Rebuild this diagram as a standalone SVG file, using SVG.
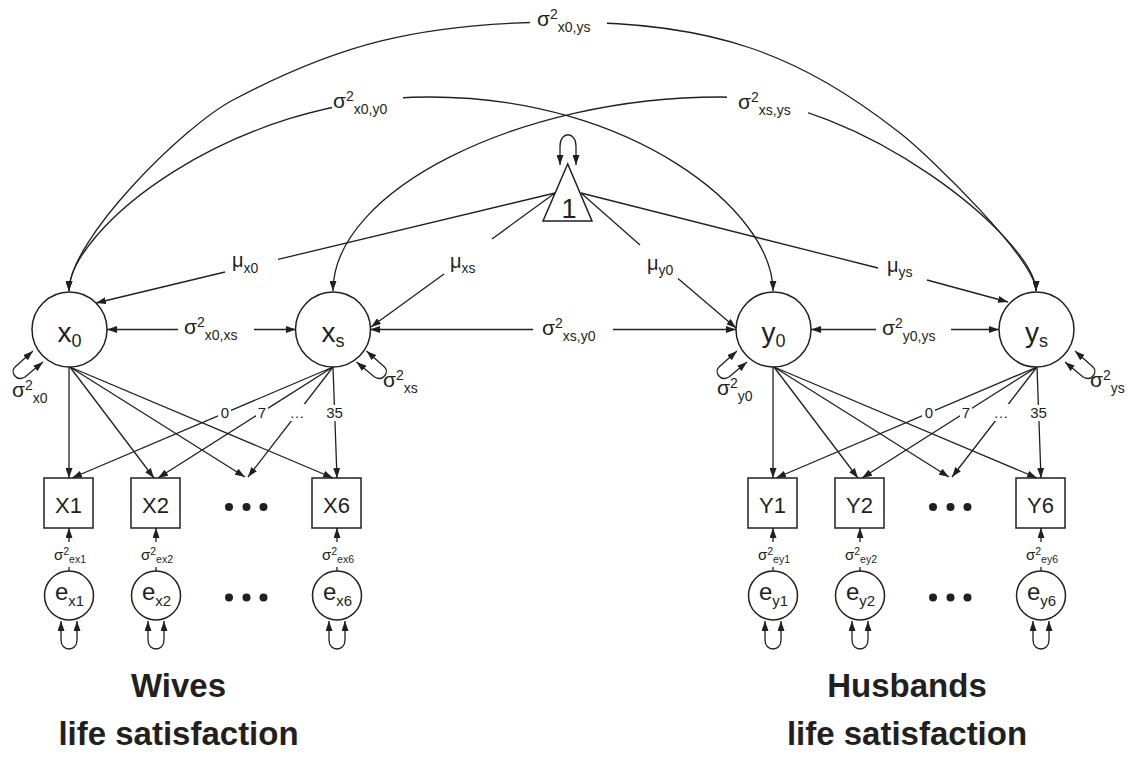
<svg xmlns="http://www.w3.org/2000/svg" width="1128" height="763" viewBox="0 0 1128 763">
<defs>
<marker id="ah" markerUnits="userSpaceOnUse" markerWidth="10" markerHeight="7" refX="10" refY="3.5" orient="auto-start-reverse" viewBox="0 0 10 7"><path d="M0,0 L10,3.5 L0,7 z" fill="#231f20"/></marker>
<style>
text{font-family:"Liberation Sans",Arial,sans-serif;fill:#231f20}
.ln,.ar,.ar2{fill:none;stroke:#231f20;stroke-width:1.3}
.ar{marker-end:url(#ah)}
.ar2{marker-start:url(#ah);marker-end:url(#ah)}
.nd{fill:#fff;stroke:#231f20;stroke-width:1.5}
.bg{fill:#fff}
.dot{fill:#231f20}
.cv{font-size:21px}
.s14{font-size:14px}
.mu{font-size:20px}
.lat{font-size:28px;text-anchor:middle}
.s18{font-size:18px}
.obs{font-size:22px;text-anchor:middle}
.err{font-size:24px;text-anchor:middle}
.s15{font-size:15px}
.ev{font-size:15px}
.s10{font-size:10.5px}
.ld{font-size:15px;text-anchor:middle}
.tt{font-size:33px;font-weight:bold;text-anchor:middle}
</style>
</defs>
<rect width="1128" height="763" fill="#fff"/>

<g id="connectors">
<!-- covariance arcs -->
<path class="ar2" d="M69,291 C69,240 183,126.5 233,100 C333,47 415,22 565,22 C715,22 800,55 900,133 C930,156.4 1036,260 1036,291"/>
<path class="ar2" d="M69,291 C69,230 230,97 430,97 C630,97 773,210 773,291"/>
<path class="ar2" d="M333,291 C333,190 520,97 720,97 C860,97 1036,240 1036,291"/>
<rect class="bg" x="530" y="8" width="77" height="28"/>
<rect class="bg" x="332" y="88" width="71" height="30"/>
<rect class="bg" x="727" y="88" width="81" height="30"/>
<!-- horizontal covariances -->
<line class="ar" x1="178" y1="329.5" x2="107" y2="329.5"/>
<line class="ar" x1="254" y1="329.5" x2="296" y2="329.5"/>
<line class="ar" x1="533" y1="329.5" x2="370" y2="329.5"/>
<line class="ar" x1="613" y1="329.5" x2="736" y2="329.5"/>
<line class="ar" x1="876" y1="329.5" x2="811" y2="329.5"/>
<line class="ar" x1="951" y1="329.5" x2="999" y2="329.5"/>
<!-- means -->
<line class="ln" x1="555" y1="193" x2="278" y2="259.4"/>
<line class="ar" x1="225" y1="272" x2="96" y2="303"/>
<line class="ln" x1="555" y1="193" x2="492" y2="239"/>
<line class="ar" x1="444" y1="274" x2="371" y2="327"/>
<line class="ln" x1="581" y1="193" x2="640" y2="245"/>
<line class="ar" x1="678" y1="278.5" x2="736" y2="328"/>
<line class="ln" x1="581" y1="193" x2="878" y2="268"/>
<line class="ar" x1="927" y1="280" x2="1008" y2="302"/>
<!-- triangle self loop -->
<path class="ar2" d="M560,165 L560,146 C560,131 576,131 576,146 L576,165"/>
<!-- latent self loops -->
<path class="ar2" d="M33,351 L15,367 C10,372 16,382 25,377 L43,362"/>
<path class="ar2" d="M366.5,351 L384.5,367 C389.5,372 383.5,382 374.5,377 L356.5,362"/>
<path class="ar2" d="M737,351 L719,367 C714,372 720,382 729,377 L747,362"/>
<path class="ar2" d="M1075,351 L1093,367 C1098,372 1092,382 1083,377 L1065,362"/>
<!-- loadings wives -->
<line class="ar" x1="69" y1="367" x2="69" y2="478"/>
<line class="ar" x1="70" y1="367" x2="154" y2="478"/>
<line class="ar" x1="70" y1="367" x2="245" y2="477"/>
<line class="ar" x1="70" y1="367" x2="333" y2="478"/>
<line class="ar" x1="333" y1="367" x2="72" y2="478"/>
<line class="ar" x1="333" y1="367" x2="158" y2="478"/>
<line class="ar" x1="333" y1="367" x2="248" y2="477"/>
<line class="ar" x1="333" y1="367" x2="337" y2="478"/>
<!-- loadings husbands -->
<line class="ar" x1="773" y1="367" x2="773" y2="478"/>
<line class="ar" x1="774" y1="367" x2="858" y2="478"/>
<line class="ar" x1="774" y1="367" x2="949" y2="477"/>
<line class="ar" x1="774" y1="367" x2="1037" y2="478"/>
<line class="ar" x1="1037" y1="367" x2="776" y2="478"/>
<line class="ar" x1="1037" y1="367" x2="862" y2="478"/>
<line class="ar" x1="1037" y1="367" x2="952" y2="477"/>
<line class="ar" x1="1037" y1="367" x2="1041" y2="478"/>
<rect class="bg" x="218" y="405" width="13" height="16"/>
<rect class="bg" x="256" y="405" width="12" height="16"/>
<rect class="bg" x="289" y="404" width="16" height="17"/>
<rect class="bg" x="325" y="405" width="19" height="16"/>
<rect class="bg" x="922" y="405" width="13" height="16"/>
<rect class="bg" x="960" y="405" width="12" height="16"/>
<rect class="bg" x="993" y="404" width="16" height="17"/>
<rect class="bg" x="1029" y="405" width="19" height="16"/>
<!-- residual paths -->
<line class="ar" x1="69" y1="542" x2="69" y2="528"/><line class="ln" x1="69" y1="571" x2="69" y2="567"/>
<line class="ar" x1="156" y1="542" x2="156" y2="528"/><line class="ln" x1="156" y1="571" x2="156" y2="567"/>
<line class="ar" x1="337" y1="542" x2="337" y2="528"/><line class="ln" x1="337" y1="571" x2="337" y2="567"/>
<line class="ar" x1="773" y1="542" x2="773" y2="528"/><line class="ln" x1="773" y1="571" x2="773" y2="567"/>
<line class="ar" x1="860" y1="542" x2="860" y2="528"/><line class="ln" x1="860" y1="571" x2="860" y2="567"/>
<line class="ar" x1="1041" y1="542" x2="1041" y2="528"/><line class="ln" x1="1041" y1="571" x2="1041" y2="567"/>
<!-- residual self loops -->
<path class="ar2" d="M61,621 L61,640 C61,652 77,652 77,640 L77,621"/>
<path class="ar2" d="M148,621 L148,640 C148,652 164,652 164,640 L164,621"/>
<path class="ar2" d="M329,621 L329,640 C329,652 345,652 345,640 L345,621"/>
<path class="ar2" d="M765,621 L765,640 C765,652 781,652 781,640 L781,621"/>
<path class="ar2" d="M852,621 L852,640 C852,652 868,652 868,640 L868,621"/>
<path class="ar2" d="M1033,621 L1033,640 C1033,652 1049,652 1049,640 L1049,621"/>
</g>

<g id="labels">
<text class="cv" x="537" y="26">σ<tspan class="s14" dy="-7">2</tspan><tspan class="s14" dy="13">x0,ys</tspan></text>
<text class="cv" x="333" y="108">σ<tspan class="s14" dy="-7">2</tspan><tspan class="s14" dy="13">x0,y0</tspan></text>
<text class="cv" x="738" y="109">σ<tspan class="s14" dy="-7">2</tspan><tspan class="s14" dy="13">xs,ys</tspan></text>
<text class="cv" x="184" y="334">σ<tspan class="s14" dy="-7">2</tspan><tspan class="s14" dy="13">x0,xs</tspan></text>
<text class="cv" x="542" y="335">σ<tspan class="s14" dy="-7">2</tspan><tspan class="s14" dy="13">xs,y0</tspan></text>
<text class="cv" x="882" y="335">σ<tspan class="s14" dy="-7">2</tspan><tspan class="s14" dy="13">y0,ys</tspan></text>
<text class="cv" x="12" y="397">σ<tspan class="s14" dy="-7">2</tspan><tspan class="s14" dy="13">x0</tspan></text>
<text class="cv" x="383" y="387">σ<tspan class="s14" dy="-7">2</tspan><tspan class="s14" dy="13">xs</tspan></text>
<text class="cv" x="717" y="395">σ<tspan class="s14" dy="-7">2</tspan><tspan class="s14" dy="13">y0</tspan></text>
<text class="cv" x="1090" y="387">σ<tspan class="s14" dy="-7">2</tspan><tspan class="s14" dy="13">ys</tspan></text>
<text class="mu" x="232" y="267">μ<tspan class="s14" dy="6">x0</tspan></text>
<text class="mu" x="450" y="268">μ<tspan class="s14" dy="5">xs</tspan></text>
<text class="mu" x="647" y="270">μ<tspan class="s14" dy="5">y0</tspan></text>
<text class="mu" x="887" y="272">μ<tspan class="s14" dy="5">ys</tspan></text>
<text class="ld" x="225" y="418">0</text>
<text class="ld" x="262" y="418">7</text>
<text class="ld" x="297" y="418">…</text>
<text class="ld" x="334.5" y="418">35</text>
<text class="ld" x="929" y="418">0</text>
<text class="ld" x="966" y="418">7</text>
<text class="ld" x="1001" y="418">…</text>
<text class="ld" x="1038.5" y="418">35</text>
<text class="ev" x="54" y="560">σ<tspan class="s10" dy="-5">2</tspan><tspan class="s10" dy="8">ex1</tspan></text>
<text class="ev" x="141" y="560">σ<tspan class="s10" dy="-5">2</tspan><tspan class="s10" dy="8">ex2</tspan></text>
<text class="ev" x="322" y="560">σ<tspan class="s10" dy="-5">2</tspan><tspan class="s10" dy="8">ex6</tspan></text>
<text class="ev" x="758" y="560">σ<tspan class="s10" dy="-5">2</tspan><tspan class="s10" dy="8">ey1</tspan></text>
<text class="ev" x="845" y="560">σ<tspan class="s10" dy="-5">2</tspan><tspan class="s10" dy="8">ey2</tspan></text>
<text class="ev" x="1026" y="560">σ<tspan class="s10" dy="-5">2</tspan><tspan class="s10" dy="8">ey6</tspan></text>
</g>

<g id="node-one"><polygon class="nd" points="567.7,164 543,221 592,221"/><text x="569" y="218" font-size="27" text-anchor="middle">1</text></g>

<g id="node-x0"><circle class="nd" cx="69.5" cy="329.5" r="37.5"/><text class="lat" x="69.5" y="342">x<tspan class="s18" dy="5">0</tspan></text></g>
<g id="node-xs"><circle class="nd" cx="333" cy="329.5" r="37.5"/><text class="lat" x="333" y="342">x<tspan class="s18" dy="5">s</tspan></text></g>
<g id="node-y0"><circle class="nd" cx="773.5" cy="329.5" r="37.5"/><text class="lat" x="773.5" y="342">y<tspan class="s18" dy="5">0</tspan></text></g>
<g id="node-ys"><circle class="nd" cx="1036.5" cy="329.5" r="37.5"/><text class="lat" x="1036.5" y="342">y<tspan class="s18" dy="5">s</tspan></text></g>

<g id="node-X1"><rect class="nd" x="44" y="478" width="49" height="50"/><text class="obs" x="68.5" y="513">X1</text></g>
<g id="node-X2"><rect class="nd" x="131" y="478" width="49" height="50"/><text class="obs" x="155.5" y="513">X2</text></g>
<g id="node-Xdots"><circle class="dot" cx="229" cy="507" r="4"/><circle class="dot" cx="246.5" cy="507" r="4"/><circle class="dot" cx="263.5" cy="507" r="4"/></g>
<g id="node-X6"><rect class="nd" x="312" y="478" width="49" height="50"/><text class="obs" x="336.5" y="513">X6</text></g>
<g id="node-Y1"><rect class="nd" x="748" y="478" width="49" height="50"/><text class="obs" x="772.5" y="513">Y1</text></g>
<g id="node-Y2"><rect class="nd" x="835" y="478" width="49" height="50"/><text class="obs" x="859.5" y="513">Y2</text></g>
<g id="node-Ydots"><circle class="dot" cx="933" cy="507" r="4"/><circle class="dot" cx="950.5" cy="507" r="4"/><circle class="dot" cx="967.5" cy="507" r="4"/></g>
<g id="node-Y6"><rect class="nd" x="1016" y="478" width="49" height="50"/><text class="obs" x="1040.5" y="513">Y6</text></g>

<g id="node-ex1"><circle class="nd" cx="69" cy="595.5" r="24.5"/><text class="err" x="69.5" y="600">e<tspan class="s15" dy="6">x1</tspan></text></g>
<g id="node-ex2"><circle class="nd" cx="156" cy="595.5" r="24.5"/><text class="err" x="156.5" y="600">e<tspan class="s15" dy="6">x2</tspan></text></g>
<g id="node-exdots"><circle class="dot" cx="229" cy="597.5" r="4"/><circle class="dot" cx="246.5" cy="597.5" r="4"/><circle class="dot" cx="263.5" cy="597.5" r="4"/></g>
<g id="node-ex6"><circle class="nd" cx="337" cy="595.5" r="24.5"/><text class="err" x="337.5" y="600">e<tspan class="s15" dy="6">x6</tspan></text></g>
<g id="node-ey1"><circle class="nd" cx="773" cy="595.5" r="24.5"/><text class="err" x="773.5" y="600">e<tspan class="s15" dy="6">y1</tspan></text></g>
<g id="node-ey2"><circle class="nd" cx="860" cy="595.5" r="24.5"/><text class="err" x="860.5" y="600">e<tspan class="s15" dy="6">y2</tspan></text></g>
<g id="node-eydots"><circle class="dot" cx="933" cy="597.5" r="4"/><circle class="dot" cx="950.5" cy="597.5" r="4"/><circle class="dot" cx="967.5" cy="597.5" r="4"/></g>
<g id="node-ey6"><circle class="nd" cx="1041" cy="595.5" r="24.5"/><text class="err" x="1041.5" y="600">e<tspan class="s15" dy="6">y6</tspan></text></g>

<g id="titles">
<text class="tt" x="178.5" y="697">Wives</text>
<text class="tt" x="178.5" y="745">life satisfaction</text>
<text class="tt" x="907" y="697">Husbands</text>
<text class="tt" x="907" y="745">life satisfaction</text>
</g>
</svg>
